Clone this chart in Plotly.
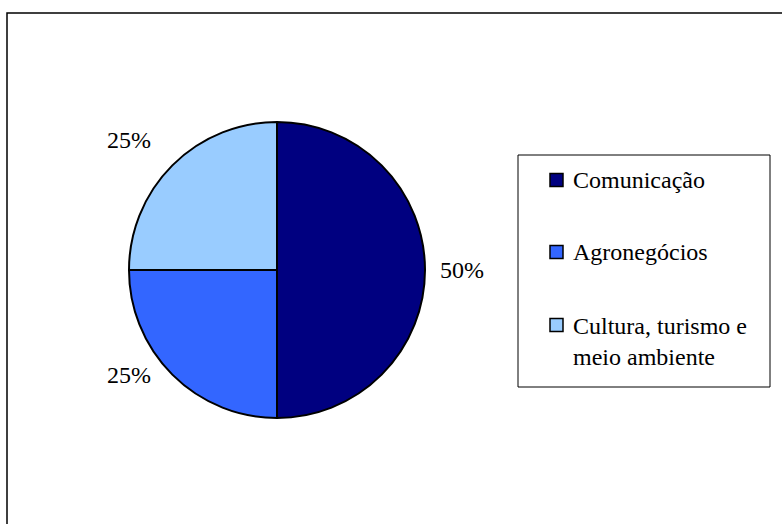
import math
import textwrap
import plotly.graph_objects as go

# Share of projects by area
labels = ["Comunicação", "Agronegócios", "Cultura, turismo e meio ambiente"]
shares = [50, 25, 25]
colors = ["#000080", "#3366FF", "#99CCFF"]

W, H = 782, 524
FONT = "'Times New Roman', 'Liberation Serif', 'DejaVu Serif', serif"

# label nudges (pixels) away from the rim point at each slice's mid-angle
label_shift = [(37, 0), (-43, 0), (-43, 25)]


def px(x):
    return x / W


def py(y):
    return 1 - y / H


# pie placement in pixels: centre and radius
cx, cy, r = 277, 270, 148

fig = go.Figure(
    go.Pie(
        labels=labels,
        values=shares,
        sort=False,
        direction="clockwise",
        rotation=0,
        marker=dict(colors=colors, line=dict(color="black", width=2)),
        textinfo="none",
        showlegend=False,
        hoverinfo="label+percent",
        domain=dict(x=[px(cx - r), px(cx + r)], y=[py(cy + r), py(cy - r)]),
    )
)

shapes = [
    # outer frame
    dict(type="rect", xref="paper", yref="paper",
         x0=px(7), x1=px(W + 10), y0=py(H + 10), y1=py(13),
         line=dict(color="black", width=1.5), fillcolor="rgba(0,0,0,0)"),
    # legend box
    dict(type="rect", xref="paper", yref="paper",
         x0=px(518), x1=px(770), y0=py(387), y1=py(155),
         line=dict(color="black", width=1), fillcolor="white"),
]

annotations = []

# percentage labels next to each slice
total = sum(shares)
start = 0.0
for v, (dx, dy) in zip(shares, label_shift):
    mid = (start + v / 2) / total * 2 * math.pi  # clockwise from 12 o'clock
    start += v
    rx = cx + r * math.sin(mid)
    ry = cy - r * math.cos(mid)
    annotations.append(dict(
        xref="paper", yref="paper", x=px(rx), y=py(ry),
        xshift=dx, yshift=dy, xanchor="center", yanchor="middle",
        showarrow=False, text=f"{round(100 * v / total)}%",
        font=dict(family=FONT, size=24, color="black"),
    ))

# legend
legend_rows = [180, 252, 341.5]
swatch_y = [180, 252, 325]
for lab, col, ty, sy in zip(labels, colors, legend_rows, swatch_y):
    shapes.append(dict(type="rect", xref="paper", yref="paper",
                       x0=px(550), x1=px(563), y0=py(sy + 6.5), y1=py(sy - 6.5),
                       line=dict(color="black", width=1.5), fillcolor=col))
    annotations.append(dict(
        xref="paper", yref="paper", x=px(571), y=py(ty),
        xanchor="left", yanchor="middle", align="left", showarrow=False,
        text="<br>".join(textwrap.wrap(lab, 18)),
        font=dict(family=FONT, size=24, color="black"),
    ))

fig.update_layout(
    width=W, height=H,
    margin=dict(l=0, r=0, t=0, b=0),
    paper_bgcolor="white", plot_bgcolor="white",
    font=dict(family=FONT),
    shapes=shapes, annotations=annotations,
)

fig.write_html("out.html")
